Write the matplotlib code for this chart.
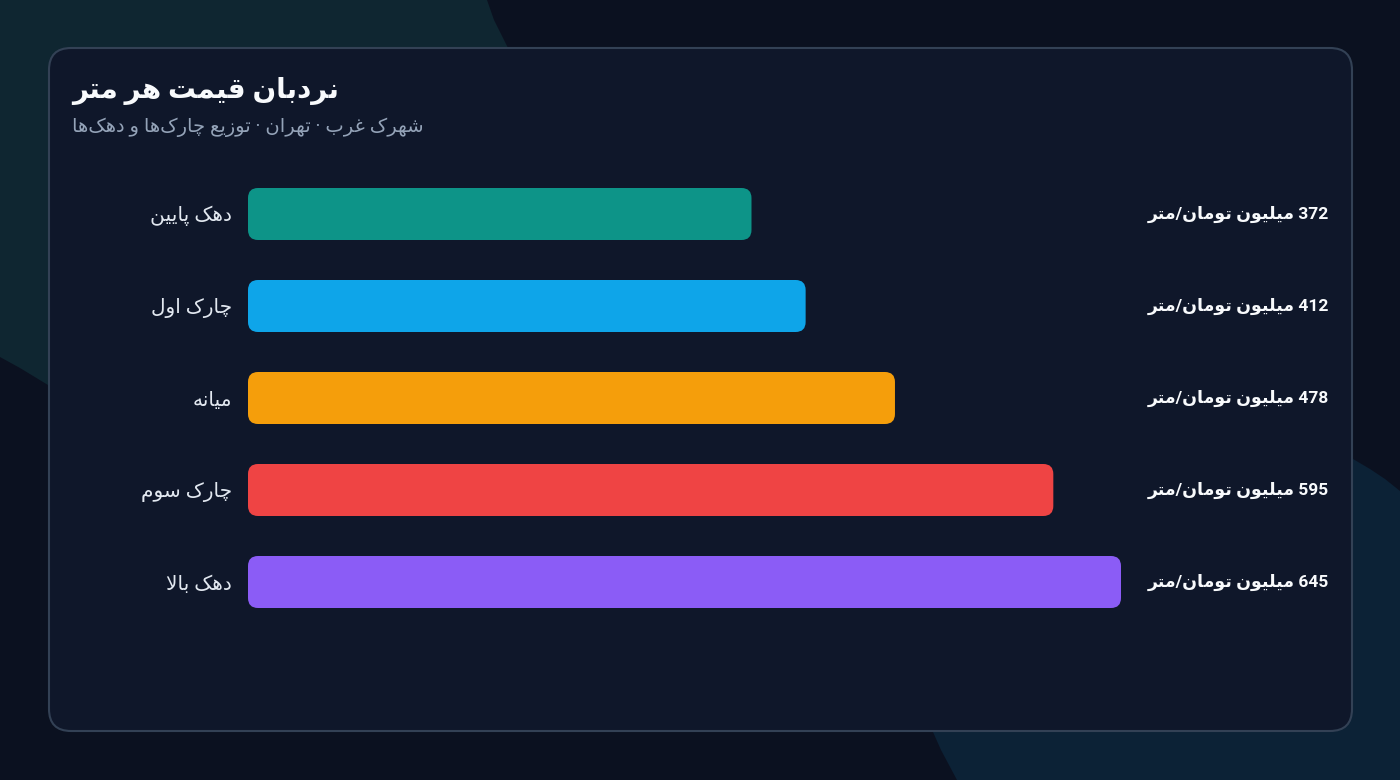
import matplotlib
matplotlib.use('Agg')
import matplotlib.pyplot as plt
from matplotlib.patches import FancyBboxPatch, Polygon
from matplotlib.transforms import blended_transform_factory

# داده‌ها
categories = ['دهک پایین', 'چارک اول', 'میانه', 'چارک سوم', 'دهک بالا']
values = [372, 412, 478, 595, 645]
colors = ['#0d9488', '#0ea5e9', '#f59e0b', '#ef4444', '#8b5cf6']
unit = 'میلیون تومان/متر'
title = 'نردبان قیمت هر متر'
subtitle = 'شهرک غرب · تهران · توزیع چارک\u200cها و دهک\u200cها'

# شکل‌های حروف: تنها، پایانی، آغازی، میانی
FORMS = {
    '\u0627': ('\uFE8D', '\uFE8E', None, None),
    '\u062F': ('\uFEA9', '\uFEAA', None, None),
    '\u0631': ('\uFEAD', '\uFEAE', None, None),
    '\u0632': ('\uFEAF', '\uFEB0', None, None),
    '\u0648': ('\uFEED', '\uFEEE', None, None),
    '\u0628': ('\uFE8F', '\uFE90', '\uFE91', '\uFE92'),
    '\u067E': ('\uFB56', '\uFB57', '\uFB58', '\uFB59'),
    '\u062A': ('\uFE95', '\uFE96', '\uFE97', '\uFE98'),
    '\u0686': ('\uFB7A', '\uFB7B', '\uFB7C', '\uFB7D'),
    '\u0633': ('\uFEB1', '\uFEB2', '\uFEB3', '\uFEB4'),
    '\u0634': ('\uFEB5', '\uFEB6', '\uFEB7', '\uFEB8'),
    '\u0639': ('\uFEC9', '\uFECA', '\uFECB', '\uFECC'),
    '\u063A': ('\uFECD', '\uFECE', '\uFECF', '\uFED0'),
    '\u0642': ('\uFED5', '\uFED6', '\uFED7', '\uFED8'),
    '\u06A9': ('\uFB8E', '\uFB8F', '\uFB90', '\uFB91'),
    '\u0644': ('\uFEDD', '\uFEDE', '\uFEDF', '\uFEE0'),
    '\u0645': ('\uFEE1', '\uFEE2', '\uFEE3', '\uFEE4'),
    '\u0646': ('\uFEE5', '\uFEE6', '\uFEE7', '\uFEE8'),
    '\u0647': ('\uFEE9', '\uFEEA', '\uFEEB', '\uFEEC'),
    '\u06CC': ('\uFBFC', '\uFBFD', '\uFBFE', '\uFBFF'),
}


def joins_left(c):
    return c in FORMS and FORMS[c][2] is not None


def shape(text):
    out = []
    i, n = 0, len(text)
    while i < n:
        c = text[i]
        if c not in FORMS:
            if c != '\u200c':
                out.append(c)
            i += 1
            continue
        link_prev = i > 0 and joins_left(text[i - 1])
        if c == '\u0644' and i + 1 < n and text[i + 1] == '\u0627':
            out.append('\uFEFC' if link_prev else '\uFEFB')
            i += 2
            continue
        link_next = joins_left(c) and i + 1 < n and text[i + 1] in FORMS
        iso, fin, ini, med = FORMS[c]
        if link_prev and link_next:
            out.append(med)
        elif link_prev:
            out.append(fin)
        elif link_next:
            out.append(ini)
        else:
            out.append(iso)
        i += 1
    return ''.join(out)


def visual(text):
    # متن راست به چپ، عددها چپ به راست
    runs = []
    for ch in shape(text):
        ltr = ch.isdigit()
        if runs and runs[-1][0] == ltr:
            runs[-1][1].append(ch)
        else:
            runs.append([ltr, [ch]])
    parts = []
    for ltr, cs in reversed(runs):
        parts.append(''.join(cs) if ltr else ''.join(reversed(cs)))
    return ''.join(parts)


fam = ['Roboto', 'DejaVu Sans']

fig = plt.figure(figsize=(14, 7.8), dpi=100)
fig.patch.set_facecolor('#0b1120')

# پس‌زمینه و کارت
bg = fig.add_axes([0, 0, 1, 1])
bg.set_xlim(0, 1400)
bg.set_ylim(780, 0)
bg.axis('off')
bg.add_patch(Polygon([(0, 0), (487, 0), (494, 20), (504, 40), (508, 48), (300, 250),
                      (48, 385), (20, 368), (0, 357)], closed=True, fc='#0f2631', ec='none'))
bg.add_patch(Polygon([(933, 732), (941, 750), (957, 780), (1400, 780), (1400, 491),
                      (1385, 479), (1370, 469), (1353, 459), (1100, 600)], closed=True,
                     fc='#0c2236', ec='none'))
bg.add_patch(FancyBboxPatch((49, 48), 1303, 683, boxstyle='round,pad=0,rounding_size=22',
                            fc='#0f172a', ec='#334155', lw=1.5))
bg.text(72, 91, visual(title), ha='left', va='center', color='#f8fafc',
        fontsize=20, fontweight='bold', family=fam)
bg.text(72, 127, visual(subtitle), ha='left', va='center', color='#94a3b8',
        fontsize=14, family=fam)

# نمودار میله‌ای
ax = fig.add_axes([248 / 1400, 1 - 628 / 780, (1121 - 248) / 1400, 460 / 780])
ax.set_xlim(0, max(values))
ax.set_ylim(len(values) - 0.5, -0.5)
ax.axis('off')

p0 = ax.transData.transform((0, 0))
p1 = ax.transData.transform((1, 1))
sx = abs(p1[0] - p0[0])
sy = abs(p1[1] - p0[1])
h = 52 / sy
r = 10 / sx

vt = blended_transform_factory(fig.transFigure, ax.transData)
for i, (cat, v, col) in enumerate(zip(categories, values, colors)):
    ax.add_patch(FancyBboxPatch((0, i - h / 2), v, h,
                                boxstyle=f'round,pad=0,rounding_size={r}',
                                mutation_aspect=sx / sy, fc=col, ec='none'))
    ax.annotate(visual(cat), xy=(0, i), xytext=(-16 * 0.72, -1.5), textcoords='offset points',
                ha='right', va='center', color='#e2e8f0', fontsize=14.5, family=fam)
    ax.text(1329 / 1400, i, visual(f'{v} {unit}'), transform=vt, ha='right', va='center',
            color='#f8fafc', fontsize=12.5, fontweight='bold', family=fam)

fig.savefig('out.png', dpi=100, facecolor=fig.get_facecolor())
